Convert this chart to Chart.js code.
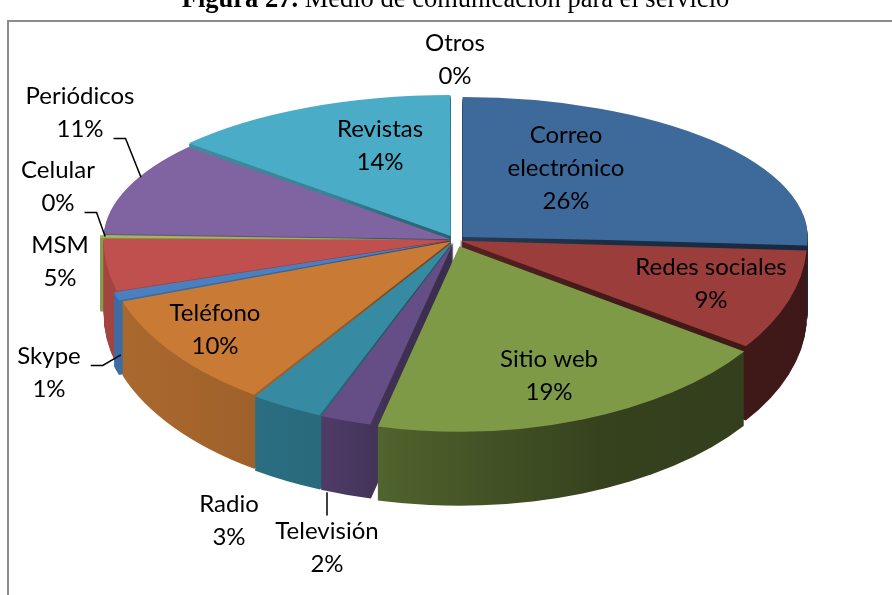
<!DOCTYPE html>
<html>
<head>
<meta charset="utf-8">
<script src="https://cdn.jsdelivr.net/npm/chart.js@4.4.1/dist/chart.umd.min.js"></script>
<style>
  html, body { margin: 0; padding: 0; background: #ffffff; overflow: hidden; }
  canvas { display: block; }
</style>
</head>
<body>
<canvas id="c" width="892" height="595"></canvas>
<script>
// ---------------- data ----------------
const categories = ["Correo electrónico", "Redes sociales", "Sitio web", "Televisión", "Radio",
                    "Teléfono", "Skype", "MSM", "Celular", "Periódicos", "Revistas", "Otros"];
const values = [25.8, 8.8, 19.2, 2.4, 3.4, 10.2, 0.8, 4.6, 0.4, 10.8, 13.6, 0];
const titleBold = "Figura 27.";
const titleRest = " Medio de comunicación para el servicio";

// ---------------- styles / layout ----------------
const colors = ["#3e6a9b", "#9a3d3b", "#7e9a46", "#654e86", "#368ba3", "#c97b36",
                "#4a7fc0", "#c0504d", "#9bbb59", "#8064a2", "#4aacc6", "#f79646"];
const explode = [34, 16, 40, 16, 16, 16, 16, 12, 16, 16, 34, 16];
// label wrapping (Correo electrónico on two lines)
const labelLines = [["Correo", "electrónico"], ["Redes sociales"], ["Sitio web"], ["Televisión"], ["Radio"],
                    ["Teléfono"], ["Skype"], ["MSM"], ["Celular"], ["Periódicos"], ["Revistas"], ["Otros"]];
// label block centres relative to pie centre (px)
const labelLayout = [[111, -72], [256, 44], [94, 136], [-128, 308], [-226, 281], [-240, 90],
                     [-406, 133], [-395, 22], [-397, -53], [-375, -127], [-75, -94], [0, -180]];
// leader lines: slice index, line index to attach, angle fraction in slice, radius factor, depth fraction
const leaders = [
  {i: 9, line: 1, frac: 0.62, rf: 1.0, depth: 0},
  {i: 8, line: 1, frac: 0.5, rf: 1.0, depth: 0},
  {i: 6, line: 0, frac: 0.5, rf: 1.0, depth: 0.8}
];
const tvLeader = {i: 3, frac: 0.95, rf: 1.0, depth: 1.0};

const EX = 455, EY = 240, RX = 345, RY_TOP = 140, RY_BOT = 185, DEPTH = 74;
const W = 892, H = 595;
const LABEL_FONT = '24px Lato';
const LINE_H = 33;

function hexToRgb(h) { const n = parseInt(h.slice(1), 16); return [(n >> 16) & 255, (n >> 8) & 255, n & 255]; }
function shade(h, f) { const c = hexToRgb(h); return 'rgb(' + c.map(v => Math.round(v * f)).join(',') + ')'; }

function wedge(ctx, arc) {
  const p = arc.getProps(['x', 'y', 'startAngle', 'endAngle', 'outerRadius', 'circumference']);
  const off = (arc.options.offset || 0) / 4;
  const mid = (p.startAngle + p.endAngle) / 2;
  const ox = p.x + Math.cos(mid) * off, oy = p.y + Math.sin(mid) * off;
  const r = p.outerRadius + off * (1 - Math.sin(Math.min(Math.PI, p.circumference || 0)));
  ctx.beginPath();
  ctx.moveTo(ox, oy);
  ctx.arc(ox, oy, r, p.startAngle, p.endAngle);
  ctx.closePath();
}

function rimPoint(chart, idx, frac, rf, depthFrac) {
  const meta = chart.getDatasetMeta(0);
  const arc = meta.data[idx];
  const a0 = meta.data[0];
  const p = arc.getProps(['x', 'y', 'startAngle', 'endAngle', 'outerRadius']);
  const R = a0.outerRadius, sx = RX / R;
  const off = (arc.options.offset || 0) / 4;
  const mid = (p.startAngle + p.endAngle) / 2;
  const ang = p.startAngle + frac * (p.endAngle - p.startAngle);
  const px = p.x + Math.cos(mid) * off + Math.cos(ang) * R * rf;
  const py = p.y + Math.sin(mid) * off + Math.sin(ang) * R * rf;
  const sy = (py < p.y ? RY_TOP : RY_BOT) / R;
  return [EX + sx * (px - p.x), EY + sy * (py - p.y) + depthFrac * DEPTH];
}

const pie3d = {
  id: 'pie3d',
  beforeDraw(chart) {
    const ctx = chart.ctx;
    ctx.save();
    ctx.strokeStyle = '#8c8c8c';
    ctx.lineWidth = 2;
    ctx.beginPath();
    ctx.moveTo(8, H + 5); ctx.lineTo(8, 21); ctx.lineTo(W + 5, 21);
    ctx.stroke();
    ctx.restore();
  },
  beforeDatasetsDraw(chart) {
    const ctx = chart.ctx;
    const meta = chart.getDatasetMeta(0);
    const arcs = meta.data;
    const cx = arcs[0].x, cy = arcs[0].y, R = arcs[0].outerRadius;
    const sx = RX / R;
    const u = X => cx + (X - EX) / sx;
    const stops = [[105, 0.85], [330, 0.76], [390, 0.63], [600, 0.43], [808, 0.40]];
    const grads = colors.map(col => {
      const g = ctx.createLinearGradient(u(105), 0, u(808), 0);
      stops.forEach(s => g.addColorStop((s[0] - 105) / (808 - 105), shade(col, s[1])));
      return g;
    });
    const passes = [{ry: RY_TOP, clip: [0, 0, W, EY]}, {ry: RY_BOT, clip: [0, EY, W, H - EY]}];
    for (const ps of passes) {
      const sy = ps.ry / R;
      ctx.save();
      ctx.beginPath();
      ctx.rect(ps.clip[0], ps.clip[1], ps.clip[2], ps.clip[3]);
      ctx.clip();
      for (let d = DEPTH; d >= 1; d--) {
        ctx.save();
        ctx.setTransform(sx, 0, 0, sy, EX - sx * cx, EY + d - sy * cy);
        arcs.forEach((arc, i) => {
          if (!arc.circumference) return;
          wedge(ctx, arc);
          ctx.fillStyle = grads[i];
          ctx.fill();
        });
        ctx.restore();
      }
      ctx.save();
      ctx.setTransform(sx, 0, 0, sy, EX - sx * cx, EY - sy * cy);
      meta.controller.draw();
      ctx.restore();
      ctx.restore();
    }
    return false;
  },
  afterDraw(chart) {
    const ctx = chart.ctx;
    const total = values.reduce((a, b) => a + b, 0);
    ctx.save();
    ctx.setTransform(1, 0, 0, 1, 0, 0);
    // title
    ctx.fillStyle = '#000';
    ctx.textBaseline = 'alphabetic';
    ctx.textAlign = 'left';
    ctx.font = 'bold 26.5px "Liberation Serif"';
    const wb = ctx.measureText(titleBold).width;
    ctx.font = '26.5px "Liberation Serif"';
    const wr = ctx.measureText(titleRest).width;
    const tx = 455.5 - (wb + wr) / 2;
    ctx.font = 'bold 26.5px "Liberation Serif"';
    ctx.fillText(titleBold, tx, 7);
    ctx.font = '26.5px "Liberation Serif"';
    ctx.fillText(titleRest, tx + wb, 7);

    // labels
    ctx.font = LABEL_FONT;
    ctx.textAlign = 'center';
    ctx.textBaseline = 'middle';
    const blocks = [];
    categories.forEach((c, i) => {
      const lines = labelLines[i].concat([Math.round(values[i] / total * 100) + '%']);
      const n = lines.length;
      const lx = EX + labelLayout[i][0], ly = EY + labelLayout[i][1];
      const info = [];
      lines.forEach((t, k) => {
        const y = ly + (k - (n - 1) / 2) * LINE_H;
        ctx.fillText(t, lx, y);
        info.push({x: lx, y: y, w: ctx.measureText(t).width});
      });
      blocks.push(info);
    });
    // leader lines
    ctx.strokeStyle = '#000';
    ctx.lineWidth = 1.5;
    leaders.forEach(L => {
      const ln = blocks[L.i][L.line];
      const sx0 = ln.x + ln.w / 2 + 10, sy0 = ln.y + 9;
      const t = rimPoint(chart, L.i, L.frac, L.rf, L.depth);
      ctx.beginPath();
      ctx.moveTo(sx0, sy0);
      ctx.lineTo(sx0 + 12, sy0);
      ctx.lineTo(t[0], t[1]);
      ctx.stroke();
    });
    const tvb = blocks[tvLeader.i][0];
    const tt = rimPoint(chart, tvLeader.i, tvLeader.frac, tvLeader.rf, tvLeader.depth);
    ctx.beginPath();
    ctx.moveTo(tvb.x, tvb.y - 16);
    ctx.lineTo(tvb.x, tt[1] + 4);
    ctx.stroke();
    ctx.restore();
  }
};

new Chart(document.getElementById('c'), {
  type: 'pie',
  data: {
    labels: categories,
    datasets: [{
      data: values,
      backgroundColor: colors,
      borderWidth: 0,
      offset: explode,
      clip: false
    }]
  },
  options: {
    responsive: false,
    animation: false,
    events: [],
    devicePixelRatio: 1,
    layout: {padding: 0},
    plugins: {legend: {display: false}, tooltip: {enabled: false}}
  },
  plugins: [pie3d]
});
</script>
</body>
</html>
